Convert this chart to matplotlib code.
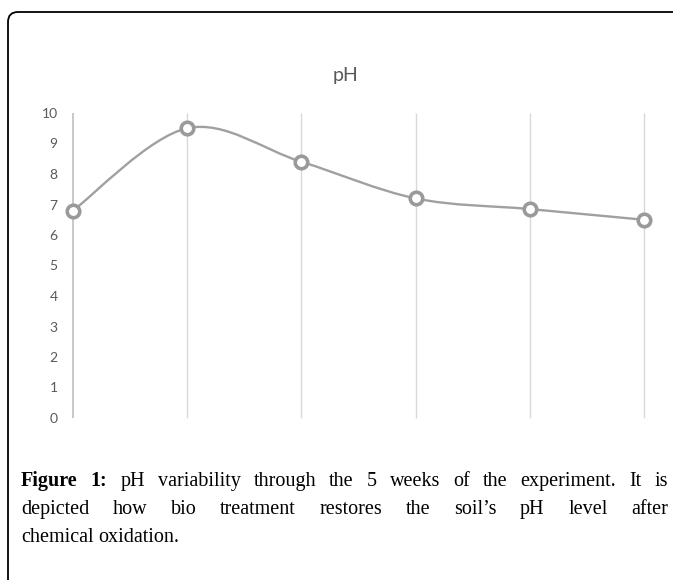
import numpy as np
import matplotlib
matplotlib.use("Agg")
import matplotlib.pyplot as plt
from matplotlib.path import Path
from matplotlib.patches import PathPatch, FancyBboxPatch

# data: weekly pH readings (6 samples, categories unlabeled)
weeks = [0, 1, 2, 3, 4, 5]
ph = [6.8, 9.5, 8.4, 7.2, 6.85, 6.5]
yticks = list(range(0, 11))
title = "pH"
caption_lines = [
    [("Figure", True), ("1:", True), ("pH", False), ("variability", False), ("through", False),
     ("the", False), ("5", False), ("weeks", False), ("of", False), ("the", False),
     ("experiment.", False), ("It", False), ("is", False)],
    [("depicted", False), ("how", False), ("bio", False), ("treatment", False), ("restores", False),
     ("the", False), ("soil\u2019s", False), ("pH", False), ("level", False), ("after", False)],
    [("chemical", False), ("oxidation.", False)],
]

W, H = 673, 580
fig = plt.figure(figsize=(W / 100, H / 100), dpi=100)

# outer frame, rounded top-left corner, running off the right and bottom edges
frame = FancyBboxPatch((0.08, -1.0), 10.0, (H - 12) / 100 + 1.0,
                       boxstyle="round,pad=0,rounding_size=0.1",
                       transform=fig.dpi_scale_trans, fill=False,
                       edgecolor="black", linewidth=1.3)
fig.add_artist(frame)

# plot area in pixels: x 73..644, y 113..418
ax = fig.add_axes([73 / W, 1 - 418 / H, (644 - 73) / W, 305 / H])
ax.set_xlim(0, 5)
ax.set_ylim(0, 10)
for s in ax.spines.values():
    s.set_visible(False)
ax.vlines(weeks[1:], 0, 10, color="#d9d9d9", linewidth=1, clip_on=False, zorder=1)
ax.vlines(weeks[:1], 0, 10, color="#bfbfbf", linewidth=1.2, clip_on=False, zorder=1)
ax.set_xticks([])
ax.set_yticks(yticks)
ax.tick_params(axis="y", left=False, length=0, labelsize=10, labelcolor="#595959", pad=11)
for lab in ax.get_yticklabels():
    lab.set_family("Lato")

# smoothed line (Catmull-Rom style bezier segments like the spreadsheet's smooth line)
x = np.array(weeks, dtype=float)
y = np.array(ph, dtype=float)
n = len(x)
verts = [(x[0], y[0])]
codes = [Path.MOVETO]
for i in range(n - 1):
    p0 = i - 1 if i > 0 else i
    p3 = i + 2 if i + 2 < n else i + 1
    c1 = (x[i] + (x[i + 1] - x[p0]) / 6, y[i] + (y[i + 1] - y[p0]) / 6)
    c2 = (x[i + 1] - (x[p3] - x[i]) / 6, y[i + 1] - (y[p3] - y[i]) / 6)
    verts += [c1, c2, (x[i + 1], y[i + 1])]
    codes += [Path.CURVE4] * 3
ax.add_patch(PathPatch(Path(verts, codes), fill=False, edgecolor="#a0a0a0",
                       linewidth=1.7, zorder=3, clip_on=False))
ax.plot(x, y, "o", ms=9, mfc="white", mec="#9a9a9a", mew=2.6, zorder=4, clip_on=False)

fig.text(346 / W, 1 - 75 / H, title, ha="center", va="center", fontsize=14,
         family="Lato", color="#595959")

# caption, justified like the source layout
fig.canvas.draw()
r = fig.canvas.get_renderer()
left, right = 21, 668
baselines = [486, 514, 542]
fs = 14.5
for li, words in enumerate(caption_lines):
    texts = []
    for w, bold in words:
        t = fig.text(0, 1 - baselines[li] / H, w, fontsize=fs, family="Liberation Serif",
                     fontweight="bold" if bold else "normal", va="baseline", ha="left")
        texts.append(t)
    widths = [t.get_window_extent(r).width for t in texts]
    if li < len(caption_lines) - 1:
        gap = (right - left - sum(widths)) / (len(texts) - 1)
    else:
        gap = 0.25 * fs * 100 / 72
    xpos = left
    for t, wd in zip(texts, widths):
        t.set_x(xpos / W)
        xpos += wd + gap

fig.savefig("out.png", dpi=100)
